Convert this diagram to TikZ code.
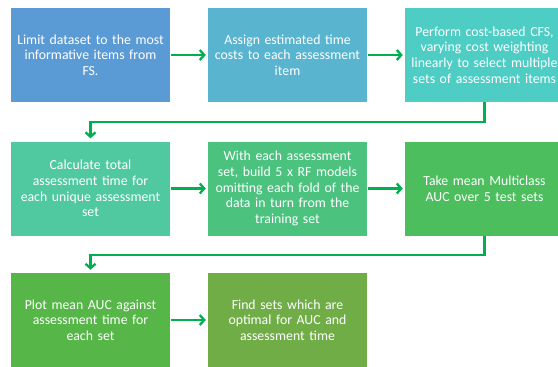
\documentclass[tikz,border=0pt]{standalone}
\usepackage{fontspec}
\setmainfont{Carlito}
\usetikzlibrary{arrows.meta}
\definecolor{cA}{HTML}{5B9BD5}
\definecolor{cB}{HTML}{59B4CF}
\definecolor{cC}{HTML}{4ECDC4}
\definecolor{cD}{HTML}{50C8A0}
\definecolor{cE}{HTML}{4CC27F}
\definecolor{cF}{HTML}{4CBE5E}
\definecolor{cG}{HTML}{56B648}
\definecolor{cH}{HTML}{70AD47}
\definecolor{arr}{HTML}{00B050}
\begin{document}
\begin{tikzpicture}[x=1pt,y=-1pt,
  box/.style={rectangle, minimum width=159pt, minimum height=94pt, text width=154pt,
    align=center, inner sep=0pt, text=white, font=\fontsize{13.8}{15.6}\selectfont},
  conn/.style={draw=arr, line width=2.3pt,
    -{Straight Barb[length=4.5pt,width=10pt,line width=2.3pt]}},
  harr/.style={conn, shorten >=2pt, shorten <=1pt},
  varr/.style={conn, shorten >=3pt}]
\useasboundingbox (0,0) rectangle (558,367);
\node[box, fill=cA] (b1) at (90.5,55) {Limit dataset to the most\\informative items from\\FS.};
\node[box, fill=cB] (b2) at (287.5,55) {Assign estimated time\\costs to each assessment\\item};
\node[box, fill=cC] (b3) at (484.5,55) {Perform cost-based CFS,\\varying cost weighting\\linearly to select multiple\\sets of assessment items};
\node[box, fill=cD] (b4) at (90.5,188.5) {Calculate total\\assessment time for\\each unique assessment\\set};
\node[box, fill=cE] (b5) at (287.5,188.5) {With each assessment\\set, build 5 x RF models\\omitting each fold of the\\data in turn from the\\training set};
\node[box, fill=cF] (b6) at (484.5,188.5) {Take mean Multiclass\\AUC over 5 test sets};
\node[box, fill=cG] (b7) at (90.5,320) {Plot mean AUC against\\assessment time for\\each set};
\node[box, fill=cH] (b8) at (287.5,320) {Find sets which are\\optimal for AUC and\\assessment time};
\draw[harr] (b1) -- (b2);
\draw[harr] (b2) -- (b3);
\draw[harr] (b4) -- (b5);
\draw[harr] (b5) -- (b6);
\draw[harr] (b7) -- (b8);
\draw[varr] (b3.south) -- ++(0,20) -| (b4.north);
\draw[varr] (b6.south) -- ++(0,19) -| (b7.north);
\end{tikzpicture}
\end{document}
